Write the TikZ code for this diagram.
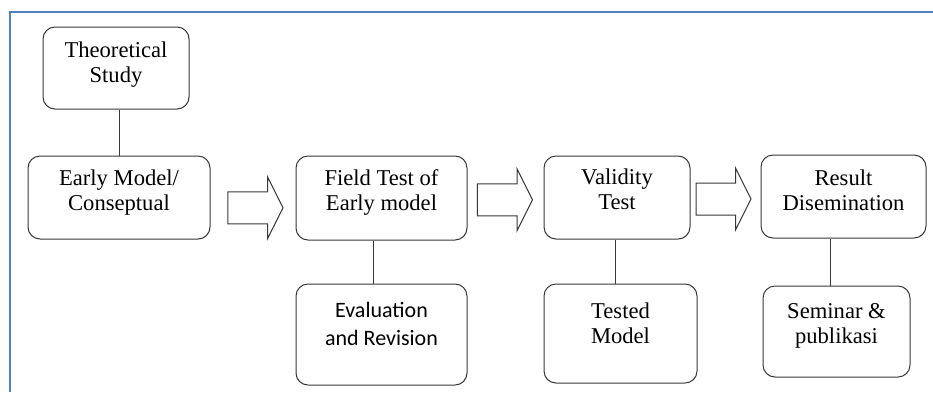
\documentclass[tikz,border=0pt]{standalone}
\usepackage{fontspec}
\setmainfont{Liberation Serif}
\newfontfamily\calibrifont{Carlito}
\usepackage{xcolor}
\usetikzlibrary{shapes.arrows, calc}
\definecolor{frameblue}{RGB}{79, 129, 189}
\definecolor{boxline}{RGB}{55, 55, 55}
\tikzset{
  stage/.style={draw=boxline, line width=1pt, rounded corners=12pt, align=center,
    font=\fontsize{22.6}{25}\selectfont, inner sep=0pt, text height=41pt},
  link/.style={draw=boxline, line width=1pt},
  fatarrow/.style={single arrow, draw=boxline, line width=1pt, minimum height=55pt,
    single arrow head extend=15pt, single arrow tip angle=127,
    inner sep=15.5pt}
}

\begin{document}
\begin{tikzpicture}[x=1pt, y=-1pt]
    \useasboundingbox (0,0) rectangle (933,392);
    \draw[frameblue, line width=2pt] (10,392) -- (10,12) -- (933,12);

    % top row
    \node[stage, minimum width=146pt, minimum height=82pt, text depth=13pt] (theory) at (116,68) {Theoretical\\Study};
    \node[stage, minimum width=182pt, minimum height=83pt, text depth=16pt] (early) at (119,197.5) {Early Model/\\Conseptual};
    \node[stage, minimum width=171pt, minimum height=84pt, text depth=17pt] (field) at (381.5,198) {Field Test of\\Early model};
    \node[stage, minimum width=146pt, minimum height=83pt, text depth=18pt] (valid) at (617,197.5) {Validity\\Test};
    \node[stage, minimum width=165pt, minimum height=83pt, text depth=13pt] (result) at (843.5,196.5) {Result\\Disemination};

    % bottom row
    \node[stage, minimum width=171pt, minimum height=101pt, text height=44pt, text depth=23pt,
      font=\calibrifont\fontsize{22}{28}\selectfont] (evalrev) at (381.5,334.5) {Evaluation\\and Revision};
    \node[stage, minimum width=153pt, minimum height=99pt, text depth=22pt] (tested) at (620.5,333.5) {Tested\\Model};
    \node[stage, minimum width=147pt, minimum height=91pt, text depth=18pt] (seminar) at (836.5,331.5) {Seminar \&\\publikasi};

    % block arrows
    \node[fatarrow, xshift=-1.5pt, yshift=-10pt] (arrowa) at ($(early.east)!0.5!(field.west)$) {};
    \node[fatarrow, xshift=-4.5pt, yshift=-2pt] (arrowb) at ($(field.east)!0.5!(valid.west)$) {};
    \node[fatarrow, xshift=-6pt, yshift=-2pt] (arrowc) at ($(valid.east)!0.5!(result.west)$) {};

    % links
    \draw[link] (early.north) -- (early.north |- theory.south);
    \draw[link] ([xshift=-8.5pt]field.south) -- ([xshift=-8.5pt]field.south |- evalrev.north);
    \draw[link] ([xshift=-2pt]valid.south) -- ([xshift=-2pt]valid.south |- tested.north);
    \draw[link] ([xshift=-13.5pt]result.south) -- ([xshift=-13.5pt]result.south |- seminar.north);
\end{tikzpicture}
\end{document}
